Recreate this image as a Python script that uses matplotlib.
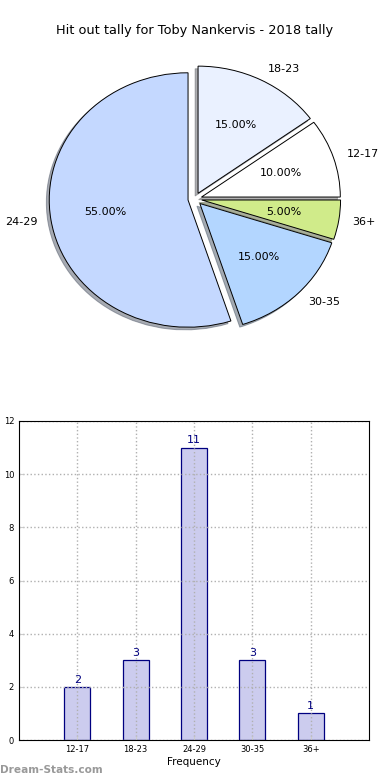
import matplotlib
matplotlib.use("Agg")
import matplotlib.pyplot as plt

# Data
pie_labels = ["18-23", "12-17", "36+", "30-35", "24-29"]
pie_values = [3, 2, 1, 3, 11]
pie_colors = ["#eaf1ff", "#ffffff", "#d0eb8a", "#b3d6ff", "#c4d8ff"]

bar_categories = ["12-17", "18-23", "24-29", "30-35", "36+"]
bar_values = [2, 3, 11, 3, 1]

title = "Hit out tally for Toby Nankervis - 2018 tally"

fig = plt.figure(figsize=(3.9, 7.8), dpi=100)
W, H = 390, 780

def axrect(x0, y0, x1, y1):
    return [x0 / W, 1 - y1 / H, (x1 - x0) / W, (y1 - y0) / H]

# Pie chart
ax1 = fig.add_axes(axrect(21.4, 40, 368.4, 358))
wedges, texts, autotexts = ax1.pie(
    pie_values, labels=pie_labels, colors=pie_colors,
    explode=[0.05] * len(pie_values), startangle=90, counterclock=False,
    autopct="%1.2f%%",
    shadow=dict(ox=-0.015, oy=-0.015, shade=0.6),
    wedgeprops=dict(edgecolor="black", linewidth=0.7),
    textprops=dict(fontsize=8),
)
ax1.set_aspect("auto")
ax1.set_xlim(-1.25, 1.25)
ax1.set_ylim(-1.25, 1.25)
ax1.set_title(title, fontsize=9.3, pad=4.5)

# Bar chart
ax2 = fig.add_axes(axrect(19, 421, 369, 740))
x = list(range(len(bar_categories)))
bars = ax2.bar(x, bar_values, width=0.45, color="#ccccee",
               edgecolor="#000080", linewidth=0.9, zorder=1)
for xi, v in zip(x, bar_values):
    ax2.text(xi, v + 0.08, str(v), ha="center", va="bottom",
             color="#000080", fontsize=8)
ax2.set_xlim(-1, 5)
ax2.set_ylim(0, 12)
ax2.set_xticks(x)
ax2.set_xticklabels(bar_categories)
ax2.set_yticks(range(0, 13, 2))
ax2.tick_params(labelsize=6, direction="in", length=3, color="#cccccc")
ax2.grid(True, linestyle=":", color="#b0b0b0", linewidth=1.0, zorder=2)
ax2.set_axisbelow(False)
for sp in ax2.spines.values():
    sp.set_zorder(5)
ax2.set_xlabel("Frequency", fontsize=7.5, labelpad=2)
ax2.set_ylabel("Stat Hit-outs", fontsize=7.5)
ax2.yaxis.set_label_coords(-0.07, 0.5)

fig.text(0.0, 1 - 770 / H, "Dream-Stats.com", fontsize=7.6, color="#999999",
         fontweight="bold", va="center", ha="left")

fig.savefig("out.png", dpi=100)
